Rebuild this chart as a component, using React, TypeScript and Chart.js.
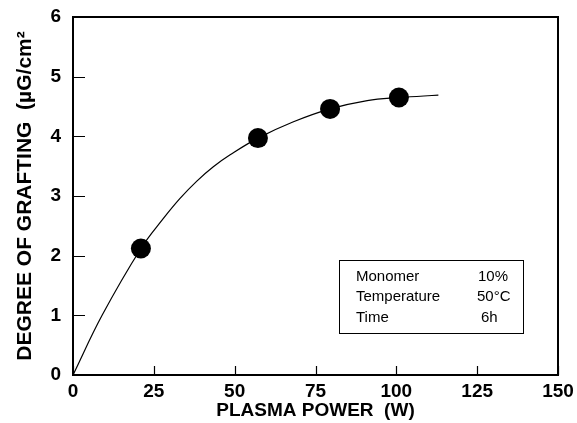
import React, { useEffect, useRef } from "react";
import { Chart, registerables } from "chart.js";

Chart.register(...registerables);

// Measured data points (plasma power W, degree of grafting µG/cm²)
const pointX = [21, 57.2, 79.5, 100.8];
const pointY = [2.12, 3.97, 4.46, 4.65];

// Fitted curve
const curveX = [0, 9, 21, 27.9, 33.1, 38.3, 43.4, 48.6, 57.2, 68, 79.5, 91, 100.8, 113];
const curveY = [0, 1.0, 2.12, 2.62, 2.96, 3.25, 3.49, 3.69, 3.97, 4.24, 4.46, 4.6, 4.65, 4.69];

const xTitle = "PLASMA POWER  (W)";
const yTitle = "DEGREE OF GRAFTING  (µG/cm²";

const infoLabels = ["Monomer", "Temperature", "Time"];
const infoValues = ["10%", "50°C", "6h"];

const FONT = "'Liberation Sans', Arial, Helvetica, sans-serif";

const framePlugin = {
  id: "frameAndTicks",
  afterDraw(chart: any) {
    const { ctx, chartArea } = chart;
    const { left, right, top, bottom } = chartArea;
    const xs = chart.scales.x;
    const ys = chart.scales.y;
    ctx.save();
    ctx.strokeStyle = "#000";
    ctx.lineWidth = 2;
    ctx.strokeRect(left, top, right - left, bottom - top);
    ctx.lineWidth = 1.2;
    ctx.beginPath();
    xs.ticks.forEach((t: any) => {
      const px = Math.round(xs.getPixelForValue(t.value)) + 0.5;
      ctx.moveTo(px, bottom);
      ctx.lineTo(px, bottom - 9);
    });
    ys.ticks.forEach((t: any) => {
      const py = Math.round(ys.getPixelForValue(t.value)) + 0.5;
      ctx.moveTo(left, py);
      ctx.lineTo(left + 12, py);
    });
    ctx.stroke();

    // info box
    const bx = 339.5, by = 260.5, bw = 184, bh = 73;
    ctx.lineWidth = 1;
    ctx.strokeRect(bx, by, bw, bh);
    ctx.fillStyle = "#000";
    ctx.font = `15px ${FONT}`;
    ctx.textBaseline = "alphabetic";
    ctx.textAlign = "left";
    const baselines = [281, 301, 322];
    infoLabels.forEach((lab, i) => {
      ctx.fillText(lab, 356, baselines[i]);
    });
    const valueX = [478, 477, 481];
    infoValues.forEach((v, i) => {
      ctx.fillText(v, valueX[i], baselines[i]);
    });
    ctx.restore();
  },
};

function zeroPad(scale: any) {
  scale.paddingTop = 0;
  scale.paddingBottom = 0;
  scale.paddingLeft = 0;
  scale.paddingRight = 0;
}

export default function App() {
  const ref = useRef<HTMLCanvasElement>(null);
  useEffect(() => {
    if (!ref.current) return;
    const chart = new Chart(ref.current, {
      type: "scatter",
      data: {
        datasets: [
          {
            label: "points",
            data: pointX.map((x, i) => ({ x, y: pointY[i] })),
            pointRadius: 10,
            pointBackgroundColor: "#000",
            pointBorderColor: "#000",
            pointBorderWidth: 0,
            showLine: false,
            order: 0,
          },
          {
            label: "curve",
            data: curveX.map((x, i) => ({ x, y: curveY[i] })),
            showLine: true,
            pointRadius: 0,
            borderColor: "#000",
            borderWidth: 1.2,
            tension: 0.4,
            fill: false,
            order: 1,
          },
        ],
      },
      options: {
        animation: false,
        responsive: false,
        layout: { padding: { top: 17, right: 19, left: 0, bottom: 0 } },
        plugins: { legend: { display: false }, tooltip: { enabled: false } },
        scales: {
          x: {
            type: "linear",
            min: 0,
            max: 150,
            ticks: {
              stepSize: 25,
              color: "#000",
              padding: 5,
              maxRotation: 0,
              font: { family: FONT, size: 19, weight: "bold" },
            },
            grid: { display: false, drawTicks: false },
            border: { display: false },
            title: {
              display: true,
              text: xTitle,
              color: "#000",
              padding: { top: 0, bottom: 1 },
              font: { family: FONT, size: 19, weight: "bold" },
            },
            afterFit(scale: any) {
              scale.height = 48;
              zeroPad(scale);
            },
          },
          y: {
            type: "linear",
            min: 0,
            max: 6,
            ticks: {
              stepSize: 1,
              color: "#000",
              padding: 12,
              font: { family: FONT, size: 19, weight: "bold" },
            },
            grid: { display: false, drawTicks: false },
            border: { display: false },
            title: {
              display: true,
              text: yTitle,
              color: "#000",
              padding: { top: 13, bottom: 0 },
              font: { family: FONT, size: 21, weight: "bold" },
            },
            afterFit(scale: any) {
              scale.width = 73;
              zeroPad(scale);
            },
          },
        },
      },
      plugins: [framePlugin],
    });
    return () => chart.destroy();
  }, []);
  return (
    <div style={{ position: "fixed", left: 0, top: 0, width: 577, height: 423, background: "#fff" }}>
      <canvas ref={ref} width={577} height={423} />
    </div>
  );
}
